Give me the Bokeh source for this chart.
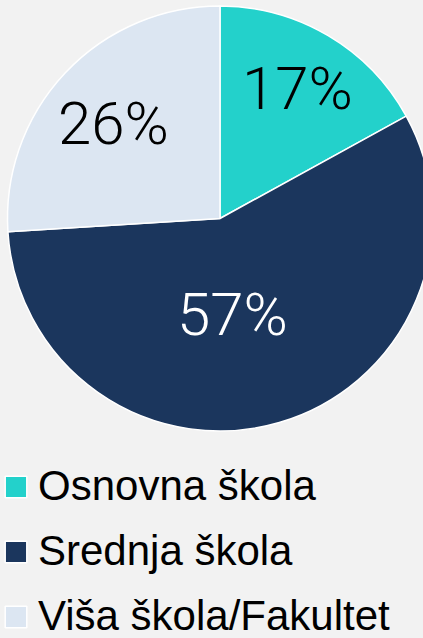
import numpy as np
from bokeh.plotting import figure
from bokeh.models import ColumnDataSource, Range1d
from bokeh.core.properties import value
from bokeh.embed import file_html
from bokeh.resources import INLINE

categories = ["Osnovna škola", "Srednja škola", "Viša škola/Fakultet"]
shares = [17, 57, 26]
labels = ["17%", "57%", "26%"]
colors = ["#23D1CB", "#1B365D", "#DCE6F2"]
label_colors = ["#000000", "#FFFFFF", "#000000"]

W, H = 423, 638
cx, cy, R = 219.5, 420, 212.5
label_xy = [(297, 550), (232, 324), (113, 515)]

fr = np.array(shares, dtype=float) / sum(shares)
cum = np.concatenate([[0], np.cumsum(fr)])
start = np.pi / 2 - cum[1:] * 2 * np.pi
end = np.pi / 2 - cum[:-1] * 2 * np.pi

src = ColumnDataSource(dict(cat=categories, start=start, end=end, color=colors,
                            lx=[p[0] for p in label_xy], ly=[p[1] for p in label_xy],
                            lab=labels, lc=label_colors))

p = figure(width=W, height=H, output_backend="svg", toolbar_location=None,
           x_range=Range1d(0, W), y_range=Range1d(0, H), min_border=0)
p.axis.visible = False
p.grid.visible = False
p.outline_line_color = None
p.background_fill_color = "#f2f2f2"
p.border_fill_color = "#f2f2f2"

p.wedge(x=cx, y=cy, radius=R, start_angle="start", end_angle="end",
        fill_color="color", line_color="white", line_width=1.5,
        legend_field="cat", source=src)
p.text(x="lx", y="ly", text="lab", text_color="lc", source=src,
       text_font=value("Roboto Light"), text_font_size="60px",
       text_align="center", text_baseline="middle")

lg = p.legend[0]
lg.location = (2, -2)
lg.orientation = "vertical"
lg.background_fill_alpha = 0
lg.border_line_color = None
lg.padding = 0
lg.margin = 0
lg.glyph_width = 27
lg.glyph_height = 27
lg.label_standoff = 9
lg.spacing = 17
lg.label_text_font = "Liberation Sans"
lg.label_text_font_size = "42px"
lg.label_text_color = "#000000"

html = file_html(p, INLINE)
html = html.replace("<head>", "<head><style>html,body{background:#f2f2f2;}</style>", 1)
open("out.html", "w").write(html)
